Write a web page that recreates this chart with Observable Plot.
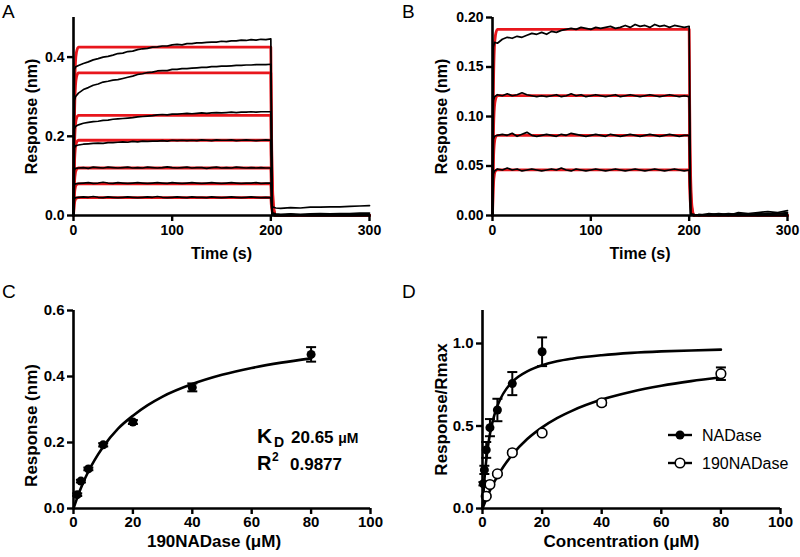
<!DOCTYPE html>
<html><head><meta charset="utf-8">
<script src="https://cdn.jsdelivr.net/npm/d3@7"></script>
<script src="https://cdn.jsdelivr.net/npm/@observablehq/plot@0.6"></script>
<style>
body{margin:0;background:#fff;}
#fig{position:relative;width:800px;height:557px;background:#fff;overflow:hidden;font-family:"Liberation Sans",Arial,Helvetica,sans-serif;}
</style></head>
<body><div id="fig"></div>
<script>
// ---------- DATA ----------
// Shared sensorgram time grid (s)
const timeS = [0,1,2,
 5,10,15,20,25,30,35,40,45,50,
 55,60,65,70,75,80,85,90,95,100,
 105,110,115,120,125,130,135,140,145,150,
 155,160,165,170,175,180,185,190,195,200,
 201.5,205,210,220,230,240,250,260,270,280,290,300];

// Panel A: measured responses (nm)
const A1 = [0,0.368,0.375,
 0.379,0.384,0.388,0.393,0.396,0.400,0.402,0.405,0.409,0.410,
 0.414,0.415,0.419,0.421,0.422,0.425,0.426,0.428,0.428,0.431,
 0.432,0.431,0.434,0.434,0.436,0.436,0.437,0.438,0.438,0.440,
 0.439,0.441,0.441,0.443,0.442,0.444,0.443,0.445,0.444,0.446,
 0.022,0.019,0.018,0.020,0.019,0.021,0.021,0.022,0.022,0.023,0.024,0.025];
const A2 = [0,0.290,0.300,
 0.309,0.318,0.323,0.329,0.332,0.337,0.339,0.342,0.343,0.346,
 0.349,0.352,0.356,0.358,0.361,0.362,0.365,0.366,0.366,0.369,
 0.369,0.371,0.371,0.372,0.373,0.374,0.374,0.376,0.376,0.377,
 0.377,0.378,0.379,0.379,0.380,0.380,0.381,0.381,0.381,0.382,
 0.007,0.004,0.003,0.004,0.003,0.004,0.005,0.004,0.005,0.005,0.006,0.006];
const A3 = [0,0.218,0.225,
 0.229,0.233,0.235,0.237,0.238,0.240,0.241,0.243,0.244,0.245,
 0.246,0.247,0.249,0.250,0.251,0.252,0.254,0.255,0.254,0.256,
 0.256,0.257,0.258,0.257,0.258,0.259,0.258,0.259,0.260,0.259,
 0.260,0.261,0.260,0.261,0.261,0.262,0.261,0.262,0.262,0.262,
 0.003,0.002,0.001,0.002,0.001,0.002,0.002,0.001,0.002,0.002,0.003,0.003];
const A4 = [0,0.170,0.176,
 0.178,0.180,0.181,0.182,0.183,0.182,0.184,0.184,0.185,0.186,
 0.185,0.187,0.186,0.188,0.187,0.188,0.188,0.189,0.188,0.190,
 0.189,0.190,0.189,0.190,0.189,0.191,0.190,0.189,0.191,0.190,
 0.190,0.191,0.189,0.190,0.191,0.190,0.189,0.190,0.191,0.190,
 0.002,0.001,0.001,0.002,0.001,0.001,0.002,0.001,0.002,0.001,0.002,0.002];
const A5 = [0,0.115,0.119,
 0.120,0.121,0.119,0.122,0.121,0.120,0.122,0.121,0.120,0.121,
 0.122,0.120,0.121,0.120,0.122,0.121,0.120,0.121,0.123,0.121,
 0.120,0.121,0.122,0.120,0.121,0.121,0.119,0.121,0.122,0.120,
 0.121,0.120,0.122,0.121,0.120,0.121,0.120,0.121,0.120,0.120,
 0.001,0.001,0.000,0.001,0.001,0.000,0.001,0.001,0.001,0.000,0.001,0.001];
const A6 = [0,0.077,0.080,
 0.081,0.082,0.083,0.081,0.082,0.084,0.082,0.081,0.083,0.082,
 0.081,0.082,0.083,0.082,0.081,0.082,0.083,0.082,0.081,0.083,
 0.082,0.081,0.082,0.083,0.082,0.081,0.082,0.083,0.082,0.081,
 0.082,0.083,0.082,0.081,0.082,0.082,0.083,0.081,0.082,0.082,
 0.001,0.000,0.001,0.000,0.001,0.001,0.000,0.001,0.000,0.001,0.001,0.001];
const A7 = [0,0.042,0.045,
 0.046,0.047,0.046,0.048,0.046,0.045,0.047,0.046,0.045,0.046,
 0.047,0.046,0.045,0.046,0.047,0.046,0.048,0.046,0.045,0.046,
 0.047,0.046,0.045,0.047,0.046,0.046,0.045,0.047,0.046,0.045,
 0.046,0.047,0.046,0.045,0.046,0.047,0.046,0.045,0.046,0.045,
 0.000,0.001,0.000,0.000,0.001,0.000,0.001,0.000,0.000,0.001,0.000,0.001];

// Panel B: measured responses (nm)
const B1 = [0,0.170,0.175,
 0.174,0.178,0.180,0.179,0.181,0.180,0.182,0.184,0.183,0.185,
 0.183,0.186,0.185,0.187,0.188,0.189,0.188,0.190,0.189,0.188,
 0.190,0.189,0.190,0.191,0.189,0.190,0.192,0.190,0.193,0.191,
 0.192,0.190,0.193,0.191,0.192,0.190,0.192,0.191,0.190,0.191,
 0.002,0.001,0.000,0.002,0.001,0.000,0.003,0.002,0.003,0.004,0.003,0.005];
const B2 = [0,0.116,0.120,
 0.122,0.121,0.123,0.121,0.122,0.124,0.122,0.121,0.120,0.121,
 0.120,0.121,0.122,0.120,0.121,0.123,0.121,0.122,0.120,0.121,
 0.122,0.121,0.120,0.121,0.122,0.120,0.121,0.122,0.121,0.120,
 0.121,0.122,0.121,0.120,0.121,0.122,0.121,0.120,0.121,0.120,
 0.001,0.000,0.001,0.001,0.000,0.001,0.002,0.001,0.001,0.002,0.002,0.003];
const B3 = [0,0.077,0.080,
 0.081,0.082,0.081,0.083,0.080,0.082,0.084,0.081,0.080,0.081,
 0.082,0.081,0.080,0.082,0.081,0.083,0.082,0.081,0.080,0.081,
 0.082,0.081,0.080,0.082,0.081,0.080,0.081,0.082,0.081,0.080,
 0.081,0.082,0.081,0.080,0.081,0.082,0.081,0.080,0.081,0.081,
 0.000,0.001,0.000,0.001,0.002,0.001,0.000,0.001,0.002,0.001,0.002,0.002];
const B4 = [0,0.042,0.045,
 0.047,0.046,0.048,0.046,0.047,0.045,0.046,0.047,0.046,0.045,
 0.046,0.047,0.046,0.048,0.046,0.045,0.047,0.046,0.045,0.046,
 0.047,0.046,0.045,0.046,0.047,0.046,0.045,0.046,0.047,0.046,
 0.045,0.046,0.047,0.046,0.045,0.046,0.047,0.046,0.045,0.046,
 0.001,0.000,0.001,0.000,0.001,0.002,0.001,0.001,0.000,0.001,0.002,0.001];

// Global fit curves (red)
const fitTime = [0,0.5,1,2,3,5,200,200.5,201,202,203,205,300];
const fitA1 = [0,0.191,0.298,0.387,0.412,0.425,0.425,0.255,0.149,0.051,0.017,0,0];
const fitA2 = [0,0.162,0.252,0.328,0.349,0.360,0.360,0.216,0.126,0.043,0.014,0,0];
const fitA3 = [0,0.114,0.177,0.230,0.245,0.253,0.253,0.152,0.089,0.030,0.010,0,0];
const fitA4 = [0,0.086,0.133,0.173,0.184,0.190,0.190,0.114,0.067,0.023,0.008,0,0];
const fitA5 = [0,0.054,0.084,0.109,0.116,0.120,0.120,0.072,0.042,0.014,0.005,0,0];
const fitA6 = [0,0.036,0.056,0.073,0.078,0.080,0.080,0.048,0.028,0.010,0.003,0,0];
const fitA7 = [0,0.020,0.032,0.041,0.044,0.045,0.045,0.027,0.016,0.005,0.002,0,0];
const fitB1 = [0,0.085,0.132,0.171,0.182,0.188,0.188,0.113,0.066,0.023,0.008,0,0];
const fitB2 = [0,0.054,0.085,0.110,0.117,0.121,0.121,0.073,0.042,0.015,0.005,0,0];
const fitB3 = [0,0.036,0.057,0.074,0.079,0.081,0.081,0.049,0.028,0.010,0.003,0,0];
const fitB4 = [0,0.021,0.032,0.042,0.045,0.046,0.046,0.028,0.016,0.006,0.002,0,0];

// Panel C: steady-state response vs 190NADase (µM)
const concC = [1.25,2.5,5,10,20,40,80];
const respC = [0.042,0.083,0.120,0.193,0.262,0.367,0.467];
const errC  = [0.004,0.004,0.004,0.005,0.006,0.012,0.022];
const fitCx = [0,1,2,3,5,7,10,15,20,25,30,40,50,60,70,80];
const fitCy = [0,0.026,0.051,0.073,0.112,0.145,0.187,0.242,0.281,0.313,0.339,0.377,0.405,0.426,0.442,0.455];

// Panel D: normalised response
const concNAD = [0.3125,0.625,1.25,2.5,5,10,20];
const respNAD = [0.150,0.234,0.355,0.490,0.597,0.757,0.950];
const errNAD  = [0.010,0.025,0.048,0.052,0.068,0.070,0.087];
const conc190 = [1.25,2.5,5,10,20,40,80];
const resp190 = [0.074,0.145,0.210,0.338,0.458,0.641,0.817];
const err190  = [0.006,0.006,0.007,0.008,0.010,0.015,0.038];
const fitNADx = [0,0.5,1,1.5,2,3,4,5,6,8,10,12,15,20,25,30,40,50,60,70,80];
const fitNADy = [0,0.141,0.248,0.330,0.397,0.497,0.568,0.622,0.664,0.725,0.767,0.798,0.831,0.868,0.892,0.908,0.929,0.943,0.952,0.958,0.963];
const fit190x = [0,1,2,3,5,7,10,15,20,25,30,40,50,60,70,80];
const fit190y = [0,0.046,0.089,0.128,0.195,0.253,0.326,0.421,0.492,0.548,0.592,0.660,0.708,0.744,0.772,0.795];

// ---------- DRAWING ----------
const FONT = '"Liberation Sans", Arial, Helvetica, sans-serif';
const RED = "#e8161c";
const fig = document.getElementById("fig");

const long = (arrs, xs) => arrs.flatMap((vals, s) => xs.map((t, j) => ({t, v: vals[j], s})));
const capSymbol = {draw(ctx, size){ const w = Math.sqrt(size/Math.PI); ctx.moveTo(-w,0); ctx.lineTo(w,0); }};

function frameMarks({xTicks, yTicks, yFmt, xLabel, yLabel, xdx=0, xdy=38, ydx=-41, ydy=0, lfs=16, tfs=14, xpad=4}) {
  return [
    Plot.ruleY([0], {stroke:"black", strokeWidth:2.6}),
    Plot.ruleX([0], {stroke:"black", strokeWidth:2.6}),
    Plot.axisX({ticks:xTicks, tickSize:6, tickPadding:xpad, strokeWidth:2.4, label:null, fontSize:tfs, fontWeight:"bold"}),
    Plot.axisY({ticks:yTicks, tickFormat:yFmt, tickSize:6, tickPadding:3, strokeWidth:2.4, label:null, fontSize:tfs, fontWeight:"bold"}),
    Plot.text([xLabel], {frameAnchor:"bottom", textAnchor:"middle", lineAnchor:"middle", dx:xdx, dy:xdy, fontSize:lfs, fontWeight:"bold"}),
    Plot.text([yLabel], {frameAnchor:"left", textAnchor:"middle", lineAnchor:"middle", rotate:-90, dx:ydx, dy:ydy, fontSize:lfs, fontWeight:"bold"})
  ];
}

function place(svg, left, top){
  svg.style.position = "absolute";
  svg.style.left = left+"px"; svg.style.top = top+"px";
  fig.appendChild(svg);
}

const baseStyle = {fontFamily: FONT, fontWeight:"bold", fontSize:"14px", color:"black", background:"transparent", overflow:"visible"};

// Panel A
place(Plot.plot({
  width:400, height:278, marginLeft:73, marginRight:31, marginTop:17, marginBottom:63,
  style: baseStyle,
  x:{domain:[0,300]}, y:{domain:[0,0.5]},
  marks:[
    Plot.line(long([fitA1,fitA2,fitA3,fitA4,fitA5,fitA6,fitA7], fitTime), {x:"t", y:"v", z:"s", stroke:RED, strokeWidth:2.8, curve:"monotone-x"}),
    Plot.line(long([A1,A2,A3,A4,A5,A6,A7], timeS), {x:"t", y:"v", z:"s", stroke:"black", strokeWidth:1.7}),
    ...frameMarks({xTicks:[0,100,200,300], yTicks:[0,0.2,0.4], yFmt:".1f", xLabel:"Time (s)", yLabel:"Response (nm)", ydx:-42})
  ]
}), 0, 0);

// Panel B
place(Plot.plot({
  width:400, height:278, marginLeft:92, marginRight:13, marginTop:17, marginBottom:63,
  style: baseStyle,
  x:{domain:[0,300]}, y:{domain:[0,0.2]},
  marks:[
    Plot.line(long([fitB1,fitB2,fitB3,fitB4], fitTime), {x:"t", y:"v", z:"s", stroke:RED, strokeWidth:2.8, curve:"monotone-x"}),
    Plot.line(long([B1,B2,B3,B4], timeS), {x:"t", y:"v", z:"s", stroke:"black", strokeWidth:1.7}),
    ...frameMarks({xTicks:[0,100,200,300], yTicks:[0,0.05,0.1,0.15,0.2], yFmt:".2f", xLabel:"Time (s)", yLabel:"Response (nm)", ydx:-51})
  ]
}), 400, 0);

// Panel C
const ptsC = concC.map((x,i)=>({x, y:respC[i], lo:respC[i]-errC[i], hi:respC[i]+errC[i]}));
const fitC = fitCx.map((x,i)=>({x, y:fitCy[i]}));
place(Plot.plot({
  width:400, height:277, marginLeft:73, marginRight:30, marginTop:30, marginBottom:49,
  style: {...baseStyle, fontSize:"15px"},
  x:{domain:[0,100]}, y:{domain:[0,0.6]},
  marks:[
    Plot.ruleX(ptsC, {x:"x", y1:"lo", y2:"hi", stroke:"black", strokeWidth:2}),
    Plot.dot(ptsC, {x:"x", y:"hi", symbol:capSymbol, r:5, stroke:"black", strokeWidth:2}),
    Plot.dot(ptsC, {x:"x", y:"lo", symbol:capSymbol, r:5, stroke:"black", strokeWidth:2}),
    Plot.dot(ptsC, {x:"x", y:"y", r:4.5, fill:"black", stroke:"none"}),
    Plot.line(fitC, {x:"x", y:"y", stroke:"black", strokeWidth:2.6, curve:"monotone-x"}),
    ...frameMarks({xTicks:[0,20,40,60,80,100], yTicks:[0,0.2,0.4,0.6], yFmt:".1f", xLabel:"190NADase (μM)", yLabel:"Response (nm)", xdx:-8, xdy:33, ydx:-42, ydy:16, lfs:17, tfs:15, xpad:2})
  ]
}), 0, 280);

// Panel D
const ptsN = concNAD.map((x,i)=>({x, y:respNAD[i], lo:respNAD[i]-errNAD[i], hi:respNAD[i]+errNAD[i]}));
const pts1 = conc190.map((x,i)=>({x, y:resp190[i], lo:resp190[i]-err190[i], hi:resp190[i]+err190[i]}));
const fitN = fitNADx.map((x,i)=>({x, y:fitNADy[i]}));
const fit1 = fit190x.map((x,i)=>({x, y:fit190y[i]}));
place(Plot.plot({
  width:400, height:277, marginLeft:82, marginRight:20, marginTop:30, marginBottom:49,
  style: {...baseStyle, fontSize:"15px"},
  x:{domain:[0,100]}, y:{domain:[0,1.2]},
  marks:[
    Plot.line(fitN, {x:"x", y:"y", stroke:"black", strokeWidth:2.6, curve:"monotone-x"}),
    Plot.line(fit1, {x:"x", y:"y", stroke:"black", strokeWidth:2.6, curve:"monotone-x"}),
    Plot.ruleX(ptsN, {x:"x", y1:"lo", y2:"hi", stroke:"black", strokeWidth:2}),
    Plot.dot(ptsN, {x:"x", y:"hi", symbol:capSymbol, r:5, stroke:"black", strokeWidth:2}),
    Plot.dot(ptsN, {x:"x", y:"lo", symbol:capSymbol, r:5, stroke:"black", strokeWidth:2}),
    Plot.ruleX(pts1, {x:"x", y1:"lo", y2:"hi", stroke:"black", strokeWidth:2}),
    Plot.dot(pts1, {x:"x", y:"hi", symbol:capSymbol, r:5, stroke:"black", strokeWidth:2}),
    Plot.dot(pts1, {x:"x", y:"lo", symbol:capSymbol, r:5, stroke:"black", strokeWidth:2}),
    Plot.dot(ptsN, {x:"x", y:"y", r:4.5, fill:"black", stroke:"none"}),
    Plot.dot(pts1, {x:"x", y:"y", r:4.8, fill:"white", stroke:"black", strokeWidth:1.6}),
    ...frameMarks({xTicks:[0,20,40,60,80,100], yTicks:[0,0.5,1.0], yFmt:".1f", xLabel:"Concentration (μM)", yLabel:"Response/Rmax", xdx:-10, xdy:33, ydx:-41, lfs:17, tfs:15, xpad:2})
  ]
}), 400, 280);

// Overlay: panel letters, annotation, legend
const NS = "http://www.w3.org/2000/svg";
const ov = document.createElementNS(NS, "svg");
ov.setAttribute("width", 800); ov.setAttribute("height", 557);
ov.setAttribute("style", `position:absolute;left:0;top:0;font-family:${FONT};pointer-events:none;`);
ov.innerHTML = `
 <g font-size="19" fill="black">
  <text x="2" y="18">A</text><text x="402" y="18">B</text>
  <text x="2" y="298">C</text><text x="402" y="298">D</text>
 </g>
 <g font-weight="bold" fill="black">
  <text x="257" y="443" font-size="21">K</text>
  <text x="274" y="447" font-size="14">D</text>
  <text x="291" y="443" font-size="17">20.65 <tspan font-size="14">μM</tspan></text>
  <text x="257" y="470" font-size="20">R</text>
  <text x="272" y="461" font-size="12">2</text>
  <text x="290" y="470" font-size="17">0.9877</text>
 </g>
 <g stroke="black" stroke-width="2.4">
  <line x1="668" y1="435" x2="692" y2="435"/>
  <circle cx="680" cy="435" r="4.5" fill="black" stroke="none"/>
  <line x1="668" y1="463" x2="692" y2="463"/>
  <circle cx="680" cy="463" r="4.8" fill="white" stroke-width="1.6"/>
 </g>
 <g font-size="16" fill="black">
  <text x="702" y="435" dy="0.35em">NADase</text>
  <text x="702" y="463" dy="0.35em">190NADase</text>
 </g>`;
fig.appendChild(ov);
</script>
</body></html>
